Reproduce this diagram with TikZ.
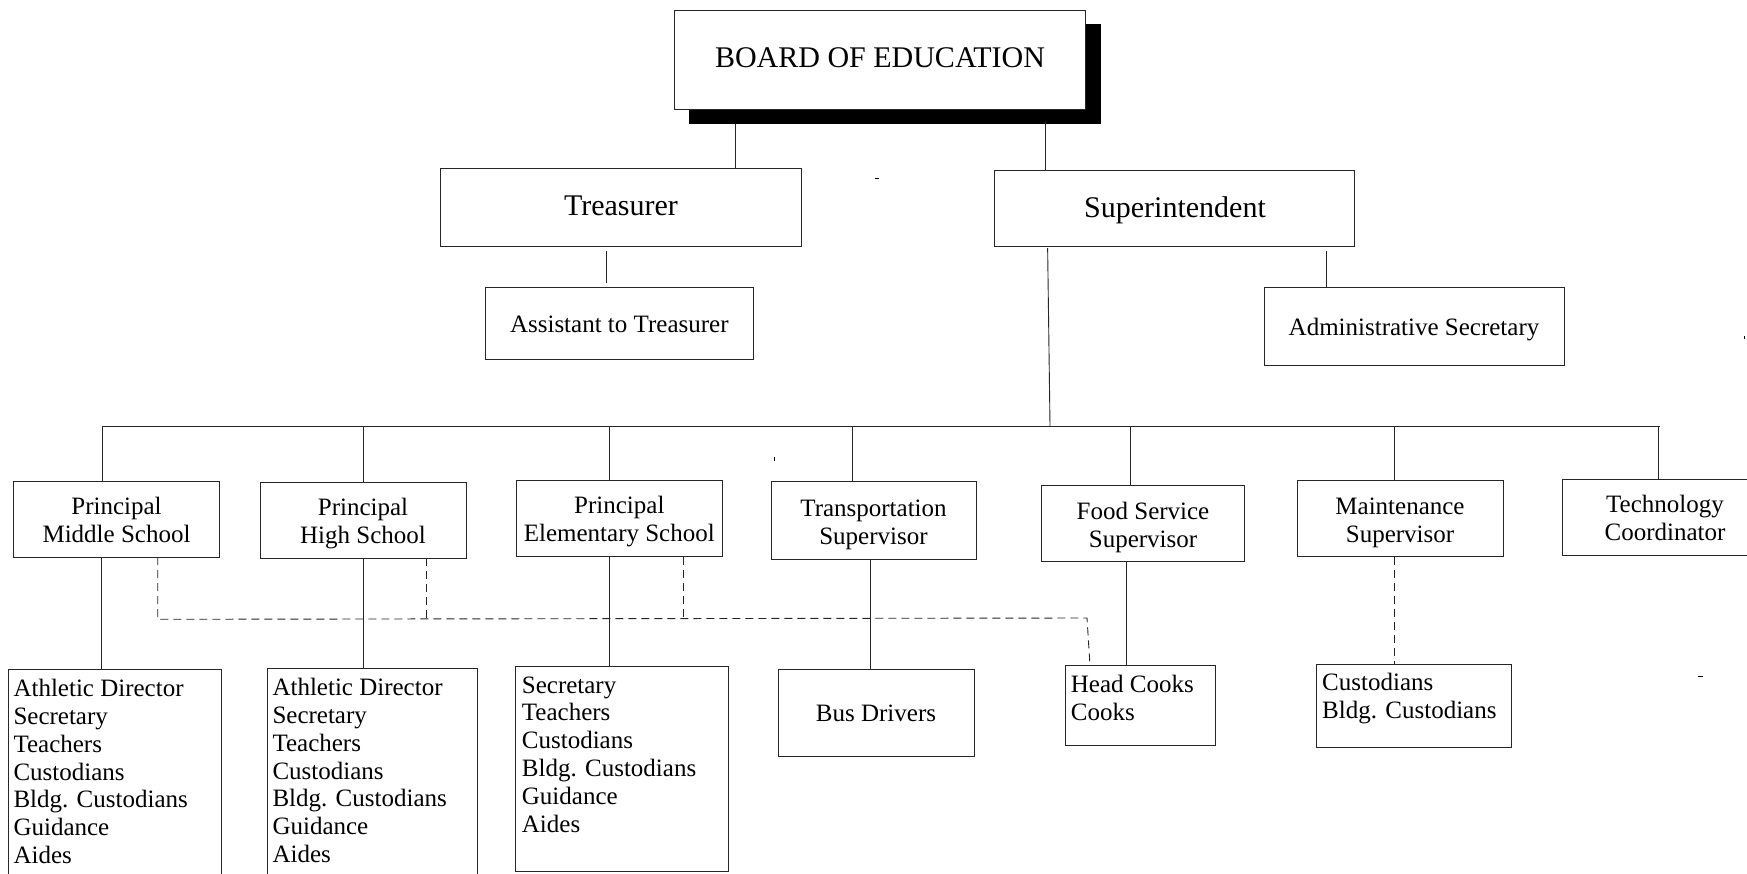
\documentclass[tikz,border=0pt]{standalone}
\usepackage{fontspec}
\setmainfont{Liberation Serif}
\newcommand\bigfnt{\fontsize{30}{34}\selectfont}
\newcommand\midfnt{\fontsize{25}{28}\selectfont}
\newcommand\lstfnt{\fontsize{25}{27.8}\selectfont}
\newcommand\bx[5]{\node[box, minimum width={#4-#2}, minimum height={#5-#3}] (#1) at ({(#2+#4)/2},{(#3+#5)/2}) {};}
\tikzset{
  box/.style={draw=black!85, line width=0.95pt, fill=white, inner sep=0pt, outer sep=0pt},
  conn/.style={draw=black!85, line width=0.9pt},
  dsh/.style={draw=black!85, line width=0.9pt, dash pattern=on 8pt off 5pt},
  lbl/.style={anchor=base, inner sep=0pt},
  lst/.style={anchor=base west, inner sep=0pt, font=\lstfnt},
}
\begin{document}
\begin{tikzpicture}[x=1pt,y=-1pt]
\useasboundingbox (0,0) rectangle (1747,874);
\fill[white] (0,0) rectangle (1747,874);
\clip (0,0) rectangle (1747,874);

% ---- boxes ----
\node[fill=black, inner sep=0pt, minimum width=411.7, minimum height=100] (shadow) at (894.85,74) {};
\bx{board}{674}{10}{1085.5}{109}
\bx{treas}{440.7}{168.7}{801}{246}
\bx{sup}{994}{170.5}{1354.8}{246}
\bx{asst}{485.7}{287.7}{753}{359}
\bx{adm}{1264}{287.7}{1564}{365}
\bx{pms}{13}{481}{219}{557}
\bx{phs}{260}{482}{466}{558}
\bx{pes}{516.5}{480.7}{722}{556.7}
\bx{trn}{771}{481}{976}{559}
\bx{fsv}{1041}{485}{1244.6}{561}
\bx{mnt}{1297}{480.7}{1503}{556.7}
\bx{tec}{1562}{479.3}{1768}{555}
\bx{lms}{8}{669}{221}{900}
\bx{lhs}{267}{668}{477}{900}
\bx{les}{515.7}{666.7}{728}{871}
\bx{bus}{778}{669}{974}{756.7}
\bx{ck}{1065.7}{665.7}{1215}{745}
\bx{cus}{1316}{664}{1511}{747.7}

% ---- labels ----
\node[lbl, font=\bigfnt] (board-t) at (880,68) {BOARD OF EDUCATION};
\node[lbl, font=\bigfnt] (treas-t) at (621,216) {Treasurer};
\node[lbl, font=\bigfnt] (sup-t) at (1175,217.7) {Superintendent};
\node[lbl, font=\midfnt] (asst-t) at (619.3,332.3) {Assistant to Treasurer};
\node[lbl, font=\midfnt] (adm-t) at (1414,335) {Administrative Secretary};
\node[lbl, font=\midfnt] (pms-t) at (116.5,514.3) {\begin{tabular}[t]{@{}c@{}}Principal\\Middle School\end{tabular}};
\node[lbl, font=\midfnt] (phs-t) at (363,515) {\begin{tabular}[t]{@{}c@{}}Principal\\High School\end{tabular}};
\node[lbl, font=\midfnt] (pes-t) at (619.3,513.3) {\begin{tabular}[t]{@{}c@{}}Principal\\Elementary School\end{tabular}};
\node[lbl, font=\midfnt] (trn-t) at (873.5,516.7) {\begin{tabular}[t]{@{}c@{}}Transportation\\Supervisor\end{tabular}};
\node[lbl, font=\midfnt] (fsv-t) at (1143,519.3) {\begin{tabular}[t]{@{}c@{}}Food Service\\Supervisor\end{tabular}};
\node[lbl, font=\midfnt] (mnt-t) at (1400,514.3) {\begin{tabular}[t]{@{}c@{}}Maintenance\\Supervisor\end{tabular}};
\node[lbl, font=\midfnt] (tec-t) at (1665,512.7) {\begin{tabular}[t]{@{}c@{}}Technology\\Coordinator\end{tabular}};
\node[lbl, font=\midfnt] (bus-t) at (876,721.7) {Bus Drivers};
\node[lst] (lms-t) at (13.3,696.7) {\begin{tabular}[t]{@{}l@{}}Athletic Director\\Secretary\\Teachers\\Custodians\\Bldg. Custodians\\Guidance\\Aides\end{tabular}};
\node[lst] (lhs-t) at (272.3,695.7) {\begin{tabular}[t]{@{}l@{}}Athletic Director\\Secretary\\Teachers\\Custodians\\Bldg. Custodians\\Guidance\\Aides\end{tabular}};
\node[lst] (les-t) at (521.7,693) {\begin{tabular}[t]{@{}l@{}}Secretary\\Teachers\\Custodians\\Bldg. Custodians\\Guidance\\Aides\end{tabular}};
\node[lst] (ck-t) at (1070.7,692.7) {\begin{tabular}[t]{@{}l@{}}Head Cooks\\Cooks\end{tabular}};
\node[lst] (cus-t) at (1322,690.7) {\begin{tabular}[t]{@{}l@{}}Custodians\\Bldg. Custodians\end{tabular}};

% ---- coordinates ----
\coordinate (xbt) at (735.7,0);
\coordinate (xbs) at (1045,0);
\coordinate (xta) at (606.7,0);
\coordinate (xsa) at (1326,0);
\coordinate (xsb) at (1047.6,0);
\coordinate (busL) at (102,426);
\coordinate (busR) at (1659.5,426);
\coordinate (busJ) at (1050,426);
\coordinate (d1) at (102,426);
\coordinate (d2) at (363.3,426);
\coordinate (d3) at (609.4,426);
\coordinate (d4) at (852.7,426);
\coordinate (d5) at (1130.8,426);
\coordinate (d6) at (1394,426);
\coordinate (d7) at (1658,426);
\coordinate (v1) at (101.7,0);
\coordinate (v2) at (363.3,0);
\coordinate (v3) at (609,0);
\coordinate (v4) at (870,0);
\coordinate (v5) at (1126.7,0);
\coordinate (v6) at (1394,0);
\coordinate (k1) at (157.7,0);
\coordinate (k2) at (426.7,0);
\coordinate (k3) at (683,0);
\coordinate (hzL) at (157.7,619.3);
\coordinate (hzR) at (1087,618);
\coordinate (kc) at (1090,0);

% ---- connectors ----
\draw[conn] (shadow.south -| xbt) -- (treas.north -| xbt);
\draw[conn] ([yshift=2.7]shadow.south -| xbs) -- (sup.north -| xbs);
\draw[conn, shorten <=5pt, shorten >=4.5pt] (treas.south -| xta) -- (asst.north -| xta);
\draw[conn, shorten <=4.7pt] (sup.south -| xsa) -- (adm.north -| xsa);
\draw[conn, shorten <=2pt] (sup.south -| xsb) -- (busJ);
\draw[conn] (busL) -- (busR);
\draw[conn] (d1) -- (pms.north -| d1);
\draw[conn] (d2) -- (phs.north -| d2);
\draw[conn] (d3) -- (pes.north -| d3);
\draw[conn] (d4) -- (trn.north -| d4);
\draw[conn] (d5) -- (fsv.north -| d5);
\draw[conn] (d6) -- (mnt.north -| d6);
\draw[conn] (d7) -- (tec.north -| d7);
\draw[conn] (pms.south -| v1) -- (lms.north -| v1);
\draw[conn] (phs.south -| v2) -- (lhs.north -| v2);
\draw[conn] (pes.south -| v3) -- (les.north -| v3);
\draw[conn] (trn.south -| v4) -- (bus.north -| v4);
\draw[conn] (fsv.south -| v5) -- (ck.north -| v5);
\draw[dsh] (mnt.south -| v6) -- (cus.north -| v6);
\draw[dsh] (pms.south -| k1) -- (hzL) -- (hzR) -- (ck.north -| kc);
\draw[dsh] (phs.south -| k2) -- (k2 |- hzL);
\draw[dsh] (pes.south -| k3) -- (k3 |- hzL);

% ---- stray marks ----
\draw[line width=0.8pt] (875,178) -- (879,178);
\draw[line width=0.8pt] (774,457) -- (774,461);
\draw[line width=0.8pt] (1744,336) -- (1744,339);
\draw[line width=0.8pt] (1698,676) -- (1703,676);
\end{tikzpicture}
\end{document}
